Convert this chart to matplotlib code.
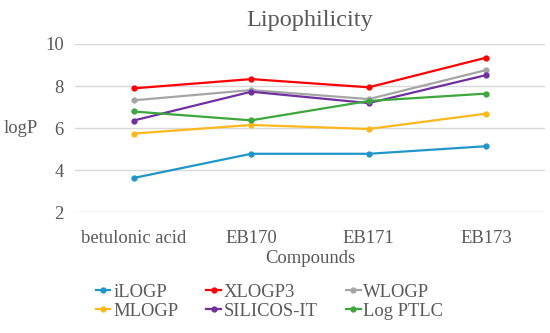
import matplotlib.pyplot as plt

compounds = ['betulonic acid', 'EB170', 'EB171', 'EB173']

ilogp = [3.63, 4.78, 4.78, 5.14]
xlogp3 = [7.89, 8.33, 7.94, 9.35]
wlogp = [7.32, 7.81, 7.38, 8.76]
mlogp = [5.74, 6.15, 5.96, 6.69]
silicos_it = [6.36, 7.73, 7.19, 8.52]
log_ptlc = [6.79, 6.37, 7.29, 7.64]

series = [
    ('iLOGP', ilogp, '#2196C8'),
    ('XLOGP3', xlogp3, '#FF0000'),
    ('WLOGP', wlogp, '#A5A5A5'),
    ('MLOGP', mlogp, '#FFB81C'),
    ('SILICOS-IT', silicos_it, '#7030A0'),
    ('Log PTLC', log_ptlc, '#3DA63D'),
]

txt = '#595959'
plt.rcParams['font.family'] = ['Liberation Serif', 'DejaVu Serif']

fig = plt.figure(figsize=(5.5, 3.33), dpi=100)
ax = fig.add_axes([0.136, 0.3625, 0.855, 0.5055])

x = list(range(len(compounds)))
lines = []
for name, vals, col in series:
    ln, = ax.plot(x, vals, color=col, lw=1.6, marker='o', ms=3.5, label=name)
    lines.append(ln)

ax.set_xlim(-0.5, len(compounds) - 0.5)
ax.set_ylim(2, 10)
ax.set_yticks([2, 4, 6, 8, 10])
ax.set_xticks(x)
ax.set_xticklabels(compounds)
ax.yaxis.grid(True, color='#D9D9D9', lw=1)
ax.set_axisbelow(True)
for s in ax.spines.values():
    s.set_visible(False)
ax.tick_params(length=0, labelsize=13.4, colors=txt, pad=8)
ax.tick_params(axis='x', pad=13)

ax.set_title('Lipophilicity', fontsize=17.5, color=txt, pad=13)
ax.set_xlabel('Compounds', fontsize=13.4, color=txt, labelpad=2)
fig.text(0.037, 0.615, 'logP', fontsize=13.4, color=txt, ha='center', va='center')

# legend filled row by row, like the original
order = [0, 3, 1, 4, 2, 5]
fig.legend([lines[i] for i in order], [series[i][0] for i in order],
           loc='center', bbox_to_anchor=(0.49, 0.094), ncol=3, frameon=False,
           fontsize=13.4, labelcolor=txt, handlelength=0.8, handletextpad=0.15,
           columnspacing=1.5, labelspacing=0.12, borderpad=0)

fig.savefig('out.png', dpi=100)
